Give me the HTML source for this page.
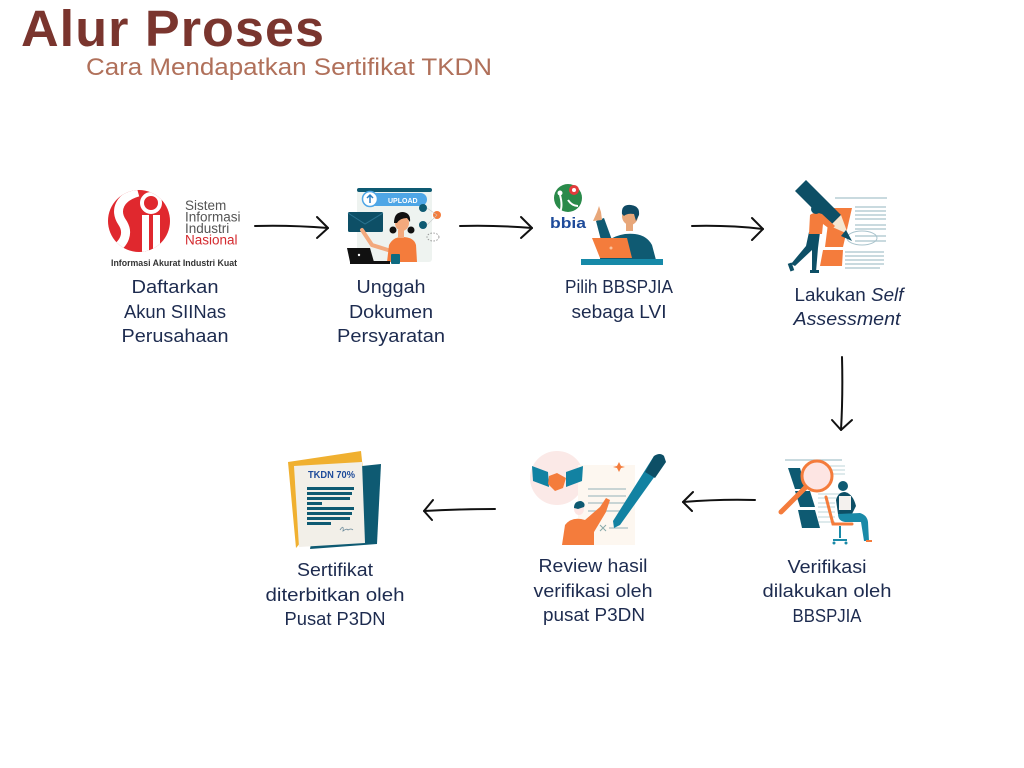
<!DOCTYPE html>
<html><head><meta charset="utf-8"><style>
html,body{margin:0;padding:0;background:#fff;}
svg{display:block;}
</style></head><body>
<svg width="1024" height="768" viewBox="0 0 1024 768" xmlns="http://www.w3.org/2000/svg">
<rect width="1024" height="768" fill="#fff"/>
<!-- Title -->
<text x="21" y="46" font-family="Liberation Sans, sans-serif" font-weight="bold" font-size="51" fill="#7a352e" textLength="304" lengthAdjust="spacingAndGlyphs" letter-spacing="1">Alur Proses</text>
<text x="86" y="75" font-family="Liberation Sans, sans-serif" font-size="24" fill="#b0705a" textLength="406" lengthAdjust="spacingAndGlyphs">Cara Mendapatkan Sertifikat TKDN</text>

<!-- Arrows -->
<g fill="none" stroke="#111" stroke-width="2" stroke-linecap="round" stroke-linejoin="round">
<path d="M255 226 Q290 225 328 228"/><path d="M317 217 L328 228 L317 238"/>
<path d="M460 226 Q495 225 532 228"/><path d="M521 217 L532 228 L521 238"/>
<path d="M692 226 Q728 225 763 229"/><path d="M752 218 L763 229 L752 240"/>
<path d="M842 357 Q843 395 841 430"/><path d="M832 420 L841 430 L852 420"/>
<path d="M755 500 Q720 499 683 502"/><path d="M693 492 L683 502 L692 511"/>
<path d="M495 509 Q460 509 424 511"/><path d="M433 500 L424 511 L432 520"/>
</g>

<!-- Icon 1: SIINas -->
<defs><clipPath id="c1"><circle cx="139" cy="221" r="31"/></clipPath></defs>
<circle cx="139" cy="221" r="31" fill="#e0282e"/>
<g clip-path="url(#c1)">
<path d="M138 192 C120 197 114 210 122 222 C129 232 126 244 110 252" fill="none" stroke="#fff" stroke-width="9"/>
<rect x="142" y="215" width="7" height="45" fill="#fff"/>
<rect x="153" y="215" width="7" height="45" fill="#fff"/>
<circle cx="151" cy="203" r="9" fill="none" stroke="#fff" stroke-width="4"/>
</g>
<g font-family="Liberation Sans, sans-serif" font-size="13.5" fill="#555">
<text x="185" y="210">Sistem</text>
<text x="185" y="221.5">Informasi</text>
<text x="185" y="233">Industri</text>
<text x="185" y="244.5" fill="#d42a2f">Nasional</text>
</g>
<text x="111" y="266" font-family="Liberation Sans, sans-serif" font-size="9.5" font-weight="bold" fill="#333" textLength="126" lengthAdjust="spacingAndGlyphs">Informasi Akurat Industri Kuat</text>

<!-- Icon 2: Upload -->
<rect x="357" y="188" width="75" height="74" rx="3" fill="#eef3f0"/>
<rect x="357" y="188" width="75" height="4" rx="2" fill="#0e5a72"/>
<rect x="368" y="193" width="59" height="13" rx="6.5" fill="#4ea6e6"/>
<text x="388" y="203" font-family="Liberation Sans, sans-serif" font-size="7" font-weight="bold" fill="#fff">UPLOAD</text>
<circle cx="370" cy="199" r="7.5" fill="#fff" stroke="#4ea6e6" stroke-width="1.5"/>
<path d="M370 203 V195 M367 198 L370 195 L373 198" stroke="#2b7fc4" stroke-width="1.5" fill="none"/>
<rect x="348" y="212" width="35" height="20" rx="1.5" fill="#0d4f66"/>
<path d="M348 213 L365 224 L383 213" stroke="#2a7390" stroke-width="1" fill="none"/>
<circle cx="423" cy="208" r="4" fill="#0e5a72"/>
<circle cx="437" cy="215" r="4" fill="#f47c3c"/>
<circle cx="423" cy="225" r="4" fill="#0e5a72"/>
<ellipse cx="433" cy="237" rx="6" ry="4" fill="none" stroke="#888" stroke-width="0.8" stroke-dasharray="1.5 1.5"/>
<path d="M427 208 L437 215 L427 225" stroke="#c8c8c8" stroke-width="0.6" fill="none"/>
<path d="M362 230 L372 245 L388 250" stroke="#f3a97d" stroke-width="4" fill="none" stroke-linecap="round"/>
<path d="M387 262 L389 245 Q393 237 402 237 Q414 237 416 245 L417 262 Z" fill="#f47c3c"/>
<rect x="398" y="230" width="6" height="8" fill="#f3a97d"/>
<ellipse cx="402" cy="223" rx="7" ry="8" fill="#f3a97d"/>
<path d="M394 223 Q394 212 403 212 Q411 213 410 222 L407 218 Q400 218 397 223 Z" fill="#111"/>
<circle cx="393" cy="230" r="3.5" fill="#111"/>
<circle cx="411" cy="230" r="3.5" fill="#111"/>
<path d="M347 248 L370 248 L374 262 L350 262 Z" fill="#111"/>
<rect x="350" y="261" width="40" height="3" fill="#111"/>
<circle cx="359" cy="255" r="1.2" fill="#fff"/>
<rect x="391" y="254" width="9" height="10" rx="1" fill="#0e6a80"/>

<!-- Icon 3: bbia -->
<circle cx="568" cy="198" r="14" fill="#2a8a4a"/>
<path d="M560 195 Q563 206 560 212 M568 200 Q572 206 578 206" stroke="#fff" stroke-width="2" fill="none"/>
<circle cx="560" cy="193" r="2.5" fill="#fff"/>
<circle cx="574" cy="190" r="5" fill="#e23b3b"/>
<circle cx="574" cy="190" r="2" fill="#fff"/>
<text x="550" y="228" font-family="Liberation Sans, sans-serif" font-size="15" font-weight="bold" fill="#1e4b9a" textLength="36" lengthAdjust="spacingAndGlyphs">bbia</text>
<path d="M600 260 Q600 238 625 234 Q645 232 652 245 L656 260 Z" fill="#0f5a72"/>
<path d="M596 221 L602 244 L612 240 L604 218 Z" fill="#0f5a72"/>
<path d="M593 221 L597 212 L599 206 L601 212 L602 220 Z" fill="#e8a77a"/>
<rect x="626" y="221" width="7" height="10" fill="#e8a77a"/>
<ellipse cx="630" cy="216" rx="8" ry="9" fill="#e8a77a"/>
<path d="M622 214 Q621 204 631 205 Q640 206 639 215 L636 221 L634 214 Q627 213 624 216 Z" fill="#0f4a64"/>
<path d="M592 238 L627 238 L632 258 L600 258 Z" fill="#f47c3c"/>
<circle cx="611" cy="248" r="1.5" fill="#f9c29d"/>
<rect x="581" y="259" width="82" height="6" fill="#1689a8"/>

<!-- Icon 4: Self assessment -->
<g stroke="#a9c3cc" stroke-width="1.2">
<line x1="835" y1="198" x2="887" y2="198"/>
<line x1="855" y1="207" x2="886" y2="207"/><line x1="855" y1="211" x2="886" y2="211"/>
<line x1="855" y1="215" x2="886" y2="215"/><line x1="855" y1="219" x2="886" y2="219"/>
<line x1="855" y1="225" x2="886" y2="225"/><line x1="855" y1="229" x2="886" y2="229"/>
<line x1="855" y1="236" x2="886" y2="236"/><line x1="855" y1="241" x2="886" y2="241"/>
<line x1="845" y1="252" x2="884" y2="252"/><line x1="845" y1="256" x2="884" y2="256"/>
<line x1="845" y1="260" x2="884" y2="260"/><line x1="845" y1="264" x2="884" y2="264"/>
<line x1="845" y1="268" x2="880" y2="268"/>
</g>
<ellipse cx="862" cy="238" rx="15" ry="7" fill="none" stroke="#a9c3cc" stroke-width="1"/>
<path d="M830 208 L852 208 L843 247 L825 247 Z" fill="#f47c3c"/>
<path d="M823 250 L843 250 L842 266 L820 266 Z" fill="#f47c3c"/>
<path d="M806 180 L841 215 L830 226 L795 191 Z" fill="#0d4f66"/>
<path d="M841 215 L848 234 L830 226 Z" fill="#f5e6d0"/>
<path d="M846 230 L852 241 L841 236 Z" fill="#0d4f66"/>
<path d="M809 232 L820 232 L818 248 L816 272 L812 272 L812 250 L795 266 L791 264 L806 246 Z" fill="#0d4f66"/>
<path d="M810 215 Q815 211 822 214 L835 226 L831 230 L823 224 L822 234 L809 234 Z" fill="#f47c3c"/>
<ellipse cx="816" cy="209" rx="5" ry="5" fill="#0d4f66"/>
<rect x="789" y="263" width="4" height="8" fill="#0d4f66" transform="rotate(-20 791 267)"/>
<rect x="810" y="270" width="9" height="3" fill="#0d4f66"/>

<!-- Icon 5: Verifikasi -->
<line x1="785" y1="460" x2="842" y2="460" stroke="#a9c3cc" stroke-width="1.2"/>
<g stroke="#bcd4da" stroke-width="1">
<line x1="815" y1="466" x2="845" y2="466"/><line x1="815" y1="470" x2="845" y2="470"/>
<line x1="815" y1="474" x2="845" y2="474"/><line x1="818" y1="494" x2="840" y2="494"/>
<line x1="818" y1="498" x2="840" y2="498"/><line x1="818" y1="503" x2="835" y2="503"/>
<line x1="818" y1="507" x2="835" y2="507"/><line x1="818" y1="512" x2="835" y2="512"/>
<line x1="818" y1="517" x2="835" y2="517"/><line x1="818" y1="522" x2="835" y2="522"/>
</g>
<path d="M788 468 L800 468 L806 489 L795 489 Z" fill="#0e5a72"/>
<path d="M795 491 L810 491 L815 507 L800 507 Z" fill="#0e5a72"/>
<path d="M798 510 L815 510 L820 528 L802 528 Z" fill="#0e5a72"/>
<line x1="806" y1="487" x2="781" y2="512" stroke="#f47c3c" stroke-width="5" stroke-linecap="round"/>
<circle cx="817" cy="476" r="15" fill="#fde5e3" stroke="#f47c3c" stroke-width="3"/>
<path d="M826 497 L833 524 L852 524" stroke="#f47c3c" stroke-width="3" fill="none" stroke-linecap="round"/>
<path d="M836 500 Q838 492 845 492 Q853 494 856 506 L852 514 L838 514 Z" fill="#0d4f66"/>
<rect x="839" y="496" width="12" height="14" fill="#f4f1ee"/>
<circle cx="843" cy="486" r="5" fill="#0e5a72"/>
<path d="M838 514 L860 513 Q867 515 868 522 L869 541 L864 541 L861 522 L845 522 Q838 521 838 514 Z" fill="#1a8aa8"/>
<line x1="840" y1="526" x2="840" y2="538" stroke="#1a8aa8" stroke-width="2"/>
<path d="M833 540 L847 540" stroke="#1a8aa8" stroke-width="2"/>
<circle cx="834" cy="543" r="1.5" fill="#1a8aa8"/><circle cx="846" cy="543" r="1.5" fill="#1a8aa8"/>
<rect x="866" y="540" width="6" height="2" fill="#f47c3c"/>

<!-- Icon 6: Review -->
<circle cx="557" cy="478" r="27" fill="#fbe9e7"/>
<rect x="578" y="465" width="57" height="80" fill="#fdf7f0"/>
<g stroke="#a9c0c4" stroke-width="1.3">
<line x1="588" y1="489" x2="626" y2="489"/><line x1="588" y1="496" x2="626" y2="496"/>
<line x1="588" y1="503" x2="626" y2="503"/><line x1="588" y1="511" x2="626" y2="511"/>
<line x1="609" y1="528" x2="628" y2="528"/>
</g>
<path d="M600 525 L606 531 M606 525 L600 531" stroke="#8aa" stroke-width="1"/>
<path d="M619 462 L621 466 L625 467 L621 468 L619 472 L617 468 L613 467 L617 466 Z" fill="#f47c3c"/>
<path d="M532 466 L548 472 L549 487 L533 481 Z" fill="#1282a2"/>
<path d="M583 466 L566 472 L566 487 L582 481 Z" fill="#1282a2"/>
<path d="M549 476 L557 473 L566 478 L563 488 L555 491 L548 484 Z" fill="#f47c3c"/>
<path d="M654 456 L665 462 L620 525 L614 528 L613 521 Z" fill="#1282a2"/>
<path d="M654 456 Q660 452 664 456 L666 462 L655 478 L645 472 Z" fill="#0d4f66"/>
<path d="M562 545 L565 525 Q572 516 585 520 L600 507 L606 498 L610 500 L606 512 L594 532 L594 545 Z" fill="#f47c3c"/>
<ellipse cx="579" cy="509" rx="5" ry="6" fill="#fde5e3"/>
<path d="M574 508 Q574 501 581 501 Q586 503 584 507 L578 509 Z" fill="#0e5a72"/>

<!-- Icon 7: Certificate -->
<path d="M288 462 L361 451 L363 470 L296 548 Z" fill="#f0b030"/>
<path d="M325 470 L381 464 L377 544 L310 549 Z" fill="#0e5a72"/>
<path d="M294 466 L362 462 L365 543 L299 547 Z" fill="#f2efe8"/>
<text x="308" y="478" font-family="Liberation Sans, sans-serif" font-size="10" font-weight="bold" fill="#1e4b9a" textLength="47" lengthAdjust="spacingAndGlyphs">TKDN 70%</text>
<g fill="#0e5a72">
<rect x="307" y="487" width="47" height="3"/>
<rect x="307" y="492" width="45" height="3"/>
<rect x="307" y="497" width="43" height="3"/>
<rect x="307" y="502" width="15" height="3"/>
<rect x="307" y="507" width="47" height="3"/>
<rect x="307" y="512" width="45" height="3"/>
<rect x="307" y="517" width="43" height="3"/>
<rect x="307" y="522" width="24" height="3"/>
</g>
<path d="M340 530 Q344 524 343 531 Q347 528 348 530 Q351 528 353 530" stroke="#6a8a9a" stroke-width="0.8" fill="none"/>

<!-- Labels -->
<g font-family="Liberation Sans, sans-serif" font-size="18" fill="#1d2b4f" text-anchor="middle" lengthAdjust="spacingAndGlyphs">
<text x="175" y="293" textLength="87" lengthAdjust="spacingAndGlyphs">Daftarkan</text>
<text x="175" y="318" textLength="102" lengthAdjust="spacingAndGlyphs">Akun SIINas</text>
<text x="175" y="342" textLength="107" lengthAdjust="spacingAndGlyphs">Perusahaan</text>
<text x="391" y="293" textLength="69" lengthAdjust="spacingAndGlyphs">Unggah</text>
<text x="391" y="318" textLength="84" lengthAdjust="spacingAndGlyphs">Dokumen</text>
<text x="391" y="342" textLength="108" lengthAdjust="spacingAndGlyphs">Persyaratan</text>
<text x="619" y="293" textLength="108" lengthAdjust="spacingAndGlyphs">Pilih BBSPJIA</text>
<text x="619" y="318" textLength="95" lengthAdjust="spacingAndGlyphs">sebaga LVI</text>
<text x="849" y="301" textLength="109" lengthAdjust="spacingAndGlyphs">Lakukan <tspan font-style="italic">Self</tspan></text>
<text x="847" y="325" textLength="107" lengthAdjust="spacingAndGlyphs" font-style="italic">Assessment</text>
<text x="827" y="573" textLength="79" lengthAdjust="spacingAndGlyphs">Verifikasi</text>
<text x="827" y="597" textLength="129" lengthAdjust="spacingAndGlyphs">dilakukan oleh</text>
<text x="827" y="622" textLength="69" lengthAdjust="spacingAndGlyphs">BBSPJIA</text>
<text x="593" y="572" textLength="109" lengthAdjust="spacingAndGlyphs">Review hasil</text>
<text x="593" y="597" textLength="119" lengthAdjust="spacingAndGlyphs">verifikasi oleh</text>
<text x="594" y="621" textLength="102" lengthAdjust="spacingAndGlyphs">pusat P3DN</text>
<text x="335" y="576" textLength="76" lengthAdjust="spacingAndGlyphs">Sertifikat</text>
<text x="335" y="601" textLength="139" lengthAdjust="spacingAndGlyphs">diterbitkan oleh</text>
<text x="335" y="625" textLength="101" lengthAdjust="spacingAndGlyphs">Pusat P3DN</text>
</g>
</svg>
</body></html>
